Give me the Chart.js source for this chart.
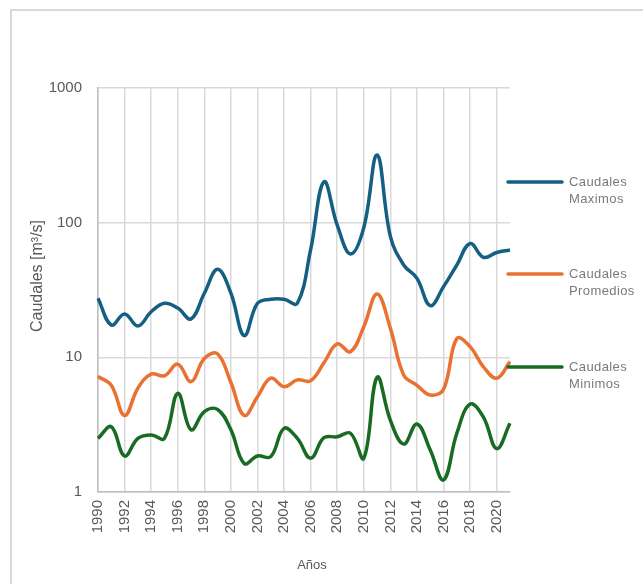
<!DOCTYPE html>
<html>
<head>
<meta charset="utf-8">
<script src="https://cdn.jsdelivr.net/npm/chart.js@4"></script>
<style>
  html, body { margin: 0; padding: 0; background: #fff; }
  #wrap { position: relative; width: 643px; height: 584px; overflow: hidden; }
  #frame { position: absolute; left: 10px; top: 9px; width: 700px; height: 640px; border: 2px solid #d9d9d9; pointer-events: none; }
  canvas { position: absolute; left: 0; top: 0; }
</style>
</head>
<body>
<div id="wrap">
  <div id="frame"></div>
  <canvas id="chart" width="643" height="584"></canvas>
</div>
<script>
const years = ["1990", "1991", "1992", "1993", "1994", "1995", "1996", "1997", "1998", "1999",
    "2000", "2001", "2002", "2003", "2004", "2005", "2006", "2007", "2008", "2009",
    "2010", "2011", "2012", "2013", "2014", "2015", "2016", "2017", "2018", "2019",
    "2020", "2021"];

const maximos = [27.5, 17.4, 21, 17.1, 21.8, 25.2, 23.2, 19.3, 29.9, 45,
    30, 14.5, 25.2, 27, 27, 25.2, 63, 201, 96, 58.5,
    92, 318, 79, 48.5, 38.6, 24.2, 33.5, 48.5, 70, 55.3,
    60, 62.7];

const promedios = [7.2, 6.2, 3.7, 5.9, 7.5, 7.3, 8.9, 6.6, 9.8, 10.6,
    6.5, 3.7, 5.1, 7.0, 6.05, 6.8, 6.7, 9.1, 12.6, 11.0,
    16.9, 29.5, 16.4, 7.4, 6.2, 5.25, 5.8, 13.8, 12.0, 8.5,
    7.0, 9.3];

const minimos = [2.5, 3.05, 1.85, 2.5, 2.65, 2.5, 5.4, 2.9, 3.95, 4.1,
    2.9, 1.63, 1.85, 1.83, 2.97, 2.5, 1.78, 2.53, 2.57, 2.73,
    1.78, 7.1, 3.4, 2.27, 3.2, 2.05, 1.23, 2.73, 4.5, 3.6,
    2.1, 3.24];

const yTicks = [1, 10, 100, 1000];

const textColor = "#595959";
const gridColor = "#d9d9d9";

// titles + legend drawn by hand, excel style
const extras = {
    id: "extras",
    afterDraw(chart) {
        const ctx = chart.ctx;
        ctx.save();
        ctx.fillStyle = textColor;
        ctx.textAlign = "center";
        ctx.textBaseline = "middle";

        // y title
        ctx.font = "16px 'Liberation Sans', Arial, sans-serif";
        ctx.save();
        ctx.translate(38, 276);
        ctx.rotate(-Math.PI / 2);
        ctx.fillText("Caudales [m³/s]", 0, 0);
        ctx.restore();

        // x title
        ctx.font = "13px 'Liberation Sans', Arial, sans-serif";
        ctx.fillText("Años", 312, 565);

        // legend
        const legendY = [182, 274, 367];
        ctx.textAlign = "left";
        ctx.font = "13px 'Liberation Sans', Arial, sans-serif";
        ctx.letterSpacing = "0.4px";
        ctx.fillStyle = "#7a7a7a";
        chart.data.datasets.forEach((ds, i) => {
            const y = legendY[i];
            ctx.strokeStyle = ds.borderColor;
            ctx.lineWidth = 3.5;
            ctx.lineCap = "round";
            ctx.beginPath();
            ctx.moveTo(508, y);
            ctx.lineTo(562, y);
            ctx.stroke();
            const parts = ds.label.split(" ");
            ctx.fillText(parts[0], 569, y);
            ctx.fillText(parts[1], 569, y + 17);
        });
        ctx.restore();
    }
};

const series = [
    { label: "Caudales Maximos", data: maximos, color: "#156082" },
    { label: "Caudales Promedios", data: promedios, color: "#E97132" },
    { label: "Caudales Minimos", data: minimos, color: "#196B24" }
];

new Chart(document.getElementById("chart"), {
    type: "line",
    data: {
        labels: years,
        datasets: series.map(s => ({
            label: s.label,
            data: s.data,
            borderColor: s.color,
            backgroundColor: s.color,
            borderWidth: 3.5,
            pointRadius: 0,
            tension: 0.4,
            fill: false
        }))
    },
    options: {
        responsive: false,
        animation: false,
        layout: { padding: { left: 0, top: 88, right: 133, bottom: 0 } },
        plugins: {
            legend: { display: false },
            tooltip: { enabled: false }
        },
        scales: {
            x: {
                type: "category",
                offset: false,
                afterFit: scale => { scale.height = 92; },
                grid: { color: gridColor, lineWidth: 1.5, drawTicks: false },
                border: { color: "#bfbfbf", width: 1.5 },
                ticks: {
                    autoSkip: false,
                    minRotation: 90,
                    maxRotation: 90,
                    padding: 8,
                    color: textColor,
                    font: { family: "'Liberation Sans', Arial, sans-serif", size: 15 },
                    callback: function (val, idx) {
                        return idx % 2 === 0 ? this.getLabelForValue(val) : null;
                    }
                }
            },
            y: {
                type: "logarithmic",
                min: 1,
                max: 1000,
                afterFit: scale => { scale.width = 98; },
                grid: { color: gridColor, lineWidth: 1.5, drawTicks: false },
                border: { color: "#bfbfbf", width: 1.5 },
                ticks: {
                    padding: 16,
                    color: textColor,
                    font: { family: "'Liberation Sans', Arial, sans-serif", size: 15 },
                    callback: v => yTicks.includes(v) ? String(v) : null
                }
            }
        }
    },
    plugins: [extras]
});
</script>
</body>
</html>
